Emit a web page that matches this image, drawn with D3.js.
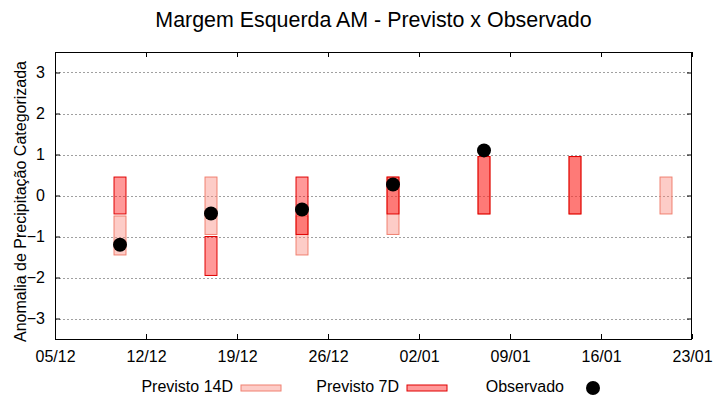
<!DOCTYPE html>
<html>
<head>
<meta charset="utf-8">
<script src="https://cdn.jsdelivr.net/npm/d3@7"></script>
<style>
  body { margin: 0; background: #fff; }
  text { font-family: "Liberation Sans", Arial, sans-serif; fill: #000; }
</style>
</head>
<body>
<script>
// semanas da previsao
var dates = ['2023-12-10', '2023-12-17', '2023-12-24', '2023-12-31', '2024-01-07', '2024-01-14', '2024-01-21'];
var prev14Low = [-1.45, -0.95, -1.45, -0.95, -0.45, -0.45, -0.45];
var prev14High = [-0.5, 0.45, -0.5, 0.45, 0.95, 0.95, 0.45];
var prev7Low = [-0.45, -1.95, -0.95, -0.45, -0.45, -0.45, null];
var prev7High = [0.45, -1.0, 0.45, 0.45, 0.95, 0.95, null];
var observado = [-1.2, -0.44, -0.34, 0.27, 1.1, null, null];
var xTicks = ['2023-12-05', '2023-12-12', '2023-12-19', '2023-12-26', '2024-01-02', '2024-01-09', '2024-01-16', '2024-01-23'];
var yTicks = [-3, -2, -1, 0, 1, 2, 3];

var width = 720, height = 400;
var margin = { left: 55, right: 28, top: 52, bottom: 61 };
var DAY = 864e5;

var parse = d3.utcParse('%Y-%m-%d');
var fmt = d3.utcFormat('%d/%m');

var svg = d3.select('body').append('svg')
  .attr('width', width)
  .attr('height', height);

var x = d3.scaleUtc()
  .domain([parse(xTicks[0]), parse(xTicks[xTicks.length - 1])])
  .range([margin.left, width - margin.right]);

var y = d3.scaleLinear()
  .domain([-3.5, 3.5])
  .range([height - margin.bottom, margin.top]);

// grade
svg.append('g').selectAll('line')
  .data(yTicks)
  .enter().append('line')
  .attr('x1', margin.left)
  .attr('x2', width - margin.right)
  .attr('y1', function (d) { return Math.round(y(d)) + 0.5; })
  .attr('y2', function (d) { return Math.round(y(d)) + 0.5; })
  .attr('stroke', '#a0a0a0')
  .attr('stroke-dasharray', '2,2');

var rows = dates.map(function (d, i) {
  return {
    date: parse(d),
    l14: prev14Low[i], h14: prev14High[i],
    l7: prev7Low[i], h7: prev7High[i],
    obs: observado[i]
  };
});

var half = 0.46 * DAY;

function bars(cls, lowKey, highKey, fill, stroke) {
  svg.append('g').attr('class', cls).selectAll('rect')
    .data(rows.filter(function (r) { return r[lowKey] != null; }))
    .enter().append('rect')
    .attr('x', function (r) { return x(new Date(+r.date - half)); })
    .attr('width', function (r) { return x(new Date(+r.date + half)) - x(new Date(+r.date - half)); })
    .attr('y', function (r) { return y(r[highKey]); })
    .attr('height', function (r) { return y(r[lowKey]) - y(r[highKey]); })
    .attr('fill', fill)
    .attr('stroke', stroke)
    .attr('stroke-width', 1);
}

bars('p14', 'l14', 'h14', 'rgba(250,128,114,0.4)', '#f08070');
bars('p7', 'l7', 'h7', 'rgba(255,0,0,0.4)', '#e00000');

svg.append('g').selectAll('circle')
  .data(rows.filter(function (r) { return r.obs != null; }))
  .enter().append('circle')
  .attr('cx', function (r) { return x(r.date); })
  .attr('cy', function (r) { return y(r.obs); })
  .attr('r', 7)
  .attr('fill', '#000');

// eixos com ticks para dentro
var xAxisB = d3.axisBottom(x)
  .tickValues(xTicks.map(parse))
  .tickFormat(fmt)
  .tickSizeInner(-5).tickSizeOuter(0).tickPadding(12);
var gx = svg.append('g')
  .attr('transform', 'translate(0,' + (height - margin.bottom) + ')')
  .call(xAxisB);
gx.selectAll('text').attr('font-size', 16).attr('font-family', '"Liberation Sans", Arial, sans-serif');

var gxt = svg.append('g')
  .attr('transform', 'translate(0,' + margin.top + ')')
  .call(d3.axisTop(x).tickValues(xTicks.map(parse)).tickFormat('').tickSizeInner(-5).tickSizeOuter(0));

var gy = svg.append('g')
  .attr('transform', 'translate(' + margin.left + ',0)')
  .call(d3.axisLeft(y).tickValues(yTicks).tickFormat(d3.format('d')).tickSizeInner(-5).tickSizeOuter(0).tickPadding(10));
gy.selectAll('text').attr('font-size', 16).attr('font-family', '"Liberation Sans", Arial, sans-serif');

svg.append('g')
  .attr('transform', 'translate(' + (width - margin.right) + ',0)')
  .call(d3.axisRight(y).tickValues(yTicks).tickFormat('').tickSizeInner(-5).tickSizeOuter(0));

svg.selectAll('.domain').remove();
svg.selectAll('.tick line').attr('stroke', '#000');

svg.append('rect')
  .attr('x', margin.left + 0.5)
  .attr('y', margin.top + 0.5)
  .attr('width', width - margin.left - margin.right - 1)
  .attr('height', height - margin.top - margin.bottom)
  .attr('fill', 'none')
  .attr('stroke', '#000');

// titulo
svg.append('text')
  .attr('x', (margin.left + width - margin.right) / 2)
  .attr('y', 27)
  .attr('text-anchor', 'middle')
  .attr('font-size', 21.4)
  .text('Margem Esquerda AM - Previsto x Observado');

svg.append('text')
  .attr('transform', 'translate(26,' + (y(0) + 6) + ') rotate(-90)')
  .attr('text-anchor', 'middle')
  .attr('font-size', 16)
  .text('Anomalia de Precipitação Categorizada');

// legenda
var legend = [
  { label: 'Previsto 14D', x: 241, type: 'rect', fill: 'rgba(250,128,114,0.4)', stroke: '#f08070' },
  { label: 'Previsto 7D', x: 407, type: 'rect', fill: 'rgba(255,0,0,0.4)', stroke: '#e00000' },
  { label: 'Observado', x: 572, type: 'dot' }
];
var lg = svg.append('g').selectAll('g').data(legend).enter().append('g');
lg.append('text')
  .attr('x', function (d) { return d.x - 8; })
  .attr('y', 392)
  .attr('text-anchor', 'end')
  .attr('font-size', 16)
  .text(function (d) { return d.label; });
lg.filter(function (d) { return d.type === 'rect'; }).append('rect')
  .attr('x', function (d) { return d.x; })
  .attr('y', 385)
  .attr('width', 40)
  .attr('height', 6)
  .attr('fill', function (d) { return d.fill; })
  .attr('stroke', function (d) { return d.stroke; });
lg.filter(function (d) { return d.type === 'dot'; }).append('circle')
  .attr('cx', 593)
  .attr('cy', 388)
  .attr('r', 7)
  .attr('fill', '#000');
</script>
</body>
</html>
